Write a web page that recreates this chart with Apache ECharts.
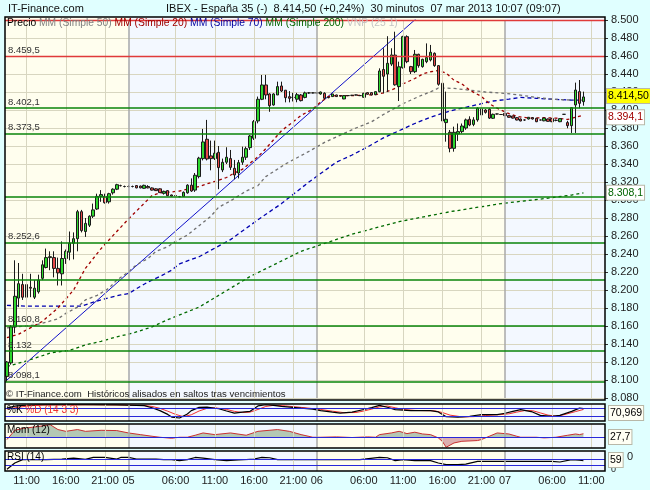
<!DOCTYPE html>
<html>
<head>
<meta charset="utf-8">
<script src="https://cdn.jsdelivr.net/npm/echarts@6/dist/echarts.min.js"></script>
<style>
  html, body { margin: 0; padding: 0; background: #E0FFFF; }
  #chart { width: 650px; height: 490px; }
</style>
</head>
<body>
<div id="chart"></div>
<script>
// velas de 30 minutos: [apertura, cierre, minimo, maximo]
const ohlc = [
  [8104, 8120, 8098, 8121], [8119, 8159, 8117, 8161], [8159, 8193, 8152, 8233], [8191, 8207, 8181, 8230],
  [8206, 8192, 8189, 8218], [8206, 8192, 8180, 8217], [8203, 8202, 8192, 8218], [8192, 8202, 8190, 8211],
  [8198, 8211, 8196, 8217], [8213, 8228, 8211, 8233], [8225, 8236, 8224, 8246], [8236, 8237, 8222, 8243],
  [8236, 8224, 8214, 8243], [8224, 8219, 8205, 8236], [8218, 8235, 8205, 8254], [8235, 8243, 8229, 8245],
  [8242, 8252, 8233, 8265], [8252, 8257, 8234, 8264], [8257, 8287, 8243, 8289], [8287, 8266, 8264, 8289],
  [8265, 8274, 8259, 8280], [8272, 8282, 8270, 8283], [8282, 8289, 8280, 8296], [8290, 8304, 8289, 8307],
  [8304, 8306, 8298, 8311], [8304, 8297, 8296, 8307], [8298, 8307, 8296, 8308], [8308, 8312, 8306, 8313],
  [8312, 8317, 8311, 8318], [8316, 8316, 8315, 8317], [8315, 8315, 8314, 8316], [8315, 8315, 8314, 8316.5],
  [8315, 8315, 8314, 8316], [8316, 8313.5, 8313, 8316.5], [8315.5, 8313.5, 8313, 8316], [8313, 8316.3, 8312.5, 8317],
  [8315, 8313.5, 8313, 8316.5], [8313.4, 8311, 8310.5, 8314], [8312.4, 8310.4, 8310, 8313], [8312.4, 8308.2, 8308, 8313],
  [8307.4, 8309.6, 8306, 8310.4], [8310.4, 8304.8, 8304.5, 8311], [8305.6, 8304.4, 8303.8, 8306], [8305, 8304.8, 8304, 8305.5],
  [8303.7, 8303.7, 8303, 8304.5], [8304, 8308.5, 8303.5, 8309.5], [8308, 8316.5, 8307, 8317.5], [8316.5, 8310, 8309, 8324],
  [8311, 8327.5, 8309, 8330], [8326, 8346.5, 8324, 8348], [8346, 8364.5, 8344, 8379], [8367.5, 8345.6, 8344, 8389],
  [8349, 8346, 8333, 8366], [8346, 8352, 8344.5, 8366], [8353, 8336, 8312, 8360], [8333.4, 8341.9, 8331, 8346],
  [8342, 8347.5, 8340, 8358.6], [8346, 8336.3, 8333.4, 8355.6], [8335.2, 8327.8, 8323, 8344.5], [8330, 8341.5, 8324, 8344.5],
  [8342, 8347.5, 8339, 8359.3], [8347.5, 8357, 8344.5, 8359.3], [8358.2, 8371.1, 8355.6, 8372.3], [8368.6, 8387.1, 8366.7, 8388.9],
  [8387.8, 8411.9, 8385.2, 8414.9], [8411.9, 8427.8, 8411, 8438.9], [8427.8, 8416.7, 8411.9, 8439], [8417.8, 8404.8, 8398, 8418.6],
  [8405.6, 8417.8, 8404.8, 8418.6], [8416.7, 8426, 8416.7, 8431.5], [8426.7, 8421.1, 8420, 8431.5], [8422, 8413.7, 8408.5, 8422],
  [8414.8, 8413, 8408.5, 8421], [8414, 8414, 8409.5, 8419], [8412, 8417, 8408.6, 8419], [8416.7, 8410.4, 8409.5, 8417.8],
  [8414, 8419, 8413, 8420.4], [8419, 8419, 8418, 8420], [8419, 8419, 8418.5, 8419.5], [8419, 8419, 8418, 8420],
  [8417.8, 8420, 8417, 8420.5], [8418.6, 8413, 8411.9, 8419.7], [8414.1, 8413.7, 8413, 8414.5], [8414.9, 8417.8, 8414.5, 8418],
  [8416.7, 8414.9, 8414.5, 8417], [8415.6, 8415.6, 8415, 8416], [8412.3, 8416, 8412, 8416.5], [8416, 8416, 8415.5, 8416.5],
  [8416.3, 8416.3, 8416, 8416.8], [8416.7, 8416.7, 8416.3, 8417], [8416, 8416, 8415.5, 8416.5], [8414.1, 8418.6, 8414, 8419],
  [8419.3, 8417.4, 8417, 8419.5], [8419.3, 8416.7, 8416.5, 8419.8], [8417, 8420.4, 8416.8, 8420.6], [8420.4, 8443.4, 8419.7, 8446.3],
  [8445, 8437.5, 8418.6, 8468.6], [8440, 8451.9, 8420, 8482], [8451, 8461.2, 8449, 8468.6], [8461, 8428, 8427, 8487],
  [8426, 8448, 8410, 8453.7], [8447, 8481.5, 8446, 8482.5], [8481.5, 8453.7, 8452, 8483], [8448.2, 8442.6, 8440, 8449],
  [8442.6, 8461.9, 8441, 8466.7], [8461.9, 8449.3, 8447, 8462.5], [8448.2, 8456.3, 8447, 8457], [8453.7, 8458.2, 8452, 8474],
  [8455.6, 8464.1, 8454, 8472.3], [8463, 8449.3, 8448, 8464], [8449.3, 8428.6, 8427, 8450], [8429.7, 8387.8, 8377.8, 8430.5],
  [8386, 8389.7, 8364.8, 8420.4], [8375.2, 8357.4, 8353, 8377.8], [8357.4, 8375.2, 8353.7, 8381.5], [8373.4, 8376, 8365.6, 8385],
  [8376, 8382.2, 8374, 8385], [8380, 8389, 8378, 8390.5], [8389.7, 8383.3, 8382, 8393], [8384, 8389, 8382, 8392],
  [8389, 8401.9, 8387, 8403], [8401.2, 8394.5, 8393, 8403], [8400, 8397.4, 8396, 8401], [8400.8, 8391, 8390, 8402],
  [8390.8, 8395.2, 8390, 8396], [8395.6, 8395.6, 8395, 8396], [8395, 8395, 8394.5, 8395.5], [8396.3, 8393.7, 8393.5, 8396.5],
  [8393.7, 8391.9, 8391.5, 8394], [8393.3, 8391, 8390.5, 8393.5], [8391.5, 8388.9, 8388.5, 8392], [8390, 8387.8, 8387.5, 8390.5],
  [8388.9, 8388.9, 8388, 8389.5], [8390, 8391.9, 8389.5, 8392.2], [8391.5, 8390, 8389.5, 8392], [8390.8, 8387, 8386.5, 8391],
  [8388.9, 8388.9, 8388.5, 8389.3], [8388, 8391, 8387.5, 8391.5], [8390, 8387.4, 8387, 8390.5], [8390.4, 8387, 8386.5, 8391],
  [8388.5, 8388.5, 8387.5, 8389.5], [8387, 8390.4, 8386.5, 8391], [8395.2, 8395.2, 8395, 8395.5], [8386, 8382.6, 8379.7, 8388],
  [8382.6, 8402.6, 8374.5, 8403], [8405.6, 8422.2, 8374.5, 8430.4], [8420.4, 8407.4, 8401.9, 8433.3], [8409.3, 8414.5, 8404.8, 8420.4]
];

// medias moviles: [indice de vela, valor]
const mm20 = [[0, 8147], [3, 8151], [9, 8165], [13, 8180], [17, 8200], [20, 8224], [24, 8246], [28, 8265], [31, 8279],
  [34, 8292], [37, 8305], [39, 8308], [42, 8309], [44, 8310], [47, 8313], [49, 8315], [51, 8318], [54, 8322], [56, 8325],
  [58, 8330], [60, 8334], [62, 8341], [64, 8348], [66, 8357], [68, 8367], [70, 8377], [73, 8387], [75, 8394], [78, 8401],
  [80, 8409], [82, 8415], [84, 8416], [88, 8416], [91, 8416.5], [94, 8417], [96, 8419], [99, 8424], [101, 8429], [104, 8435],
  [106, 8440], [108, 8442.5], [110, 8444], [112, 8441], [114, 8433], [116, 8429], [118, 8422], [121, 8415], [123, 8407],
  [125, 8402], [128, 8396], [130, 8393], [133, 8391], [137, 8391.5], [140, 8391], [143, 8389.5], [145, 8392], [147, 8394]];
const mm50 = [[0, 8158], [7, 8161], [9, 8163], [13, 8168], [15, 8174], [18, 8181], [20, 8189], [23, 8194], [26, 8202],
  [28, 8211], [31, 8220], [33, 8228], [36, 8235], [38, 8243], [41, 8248], [43, 8254], [46, 8261], [48, 8268], [52, 8282],
  [54, 8292], [57, 8299], [61, 8310], [64, 8316], [66, 8326], [71, 8340], [77, 8354], [81, 8364], [85, 8372], [89, 8380],
  [93, 8387], [96, 8395], [101, 8407], [105, 8415], [109, 8422], [110, 8424.5], [114, 8424], [118, 8422], [122, 8420],
  [127, 8418.5], [131, 8416.5], [135, 8414], [139, 8412], [144, 8411], [147, 8411]];
const mm70 = [[0, 8183], [5, 8182], [10, 8182], [15, 8182], [19, 8182], [21, 8185], [24, 8189], [26, 8191.5], [29, 8194.5],
  [31, 8196], [34, 8204], [36, 8209], [39, 8215], [42, 8222], [44, 8229], [47, 8234], [49, 8237], [57, 8256], [64, 8278],
  [70, 8296], [77, 8320], [84, 8342], [88, 8350], [92, 8359], [96, 8369], [99, 8375], [104, 8385], [108, 8392], [113, 8399],
  [117, 8403], [121, 8407], [124, 8410], [128, 8412], [131, 8414], [135, 8413], [139, 8412], [144, 8411], [147, 8411]];
const mm200 = [[0, 8115], [4, 8120], [7, 8124], [11, 8130], [16, 8133], [20, 8139], [24, 8143], [28, 8148], [32, 8152],
  [37, 8159], [41, 8167], [45, 8174], [49, 8181], [62, 8215], [75, 8243], [88, 8262], [100, 8276], [113, 8287], [126, 8296],
  [136, 8301], [144, 8305.5], [147, 8308]];
const trendLine = [[0, 8100], [105, 8504]];

// niveles horizontales
const resistanceLevels = [8500, 8459.5];
const supportLevels = [8402.1, 8373.5, 8303.5, 8252.6, 8211, 8160.8, 8132, 8098.1];
const labeledLevels = [8459.5, 8402.1, 8373.5, 8252.6, 8160.8, 8132, 8098.1];
const levelTexts = ['8.459,5', '8.402,1', '8.373,5', '8.252,6', '8.160,8', '8.132', '8.098,1'];

// indicadores
const stochK = [[0, 73], [2, 84], [4, 88], [8, 91], [20, 91], [28, 90], [33, 87], [35, 86], [37, 75], [39, 60], [41, 40],
  [42, 26], [44, 21], [46, 42], [47, 60], [49, 77], [51, 78], [54, 70], [56, 58], [58, 47], [60, 52], [62, 56], [64, 85],
  [66, 91], [68, 88], [70, 82], [75, 73], [78, 68], [80, 60], [83, 52], [85, 47], [88, 52], [91, 66], [93, 76], [95, 88],
  [97, 78], [99, 65], [103, 60], [108, 60], [110, 53], [112, 28], [115, 25], [118, 30], [121, 39], [125, 39], [127, 46],
  [129, 56], [131, 65], [134, 53], [136, 35], [139, 30], [141, 35], [144, 56], [146, 73], [147, 71]];
const stochD = [[0, 68], [3, 78], [6, 86], [10, 90], [22, 91], [30, 90], [35, 87], [37, 82], [39, 72], [41, 57], [43, 40],
  [45, 28], [47, 38], [49, 58], [51, 72], [53, 75], [56, 66], [58, 56], [60, 50], [62, 52], [64, 66], [66, 82], [68, 88],
  [71, 85], [76, 75], [80, 66], [83, 57], [86, 49], [89, 50], [91, 58], [93, 68], [95, 80], [97, 84], [99, 75], [101, 66],
  [104, 61], [109, 59], [111, 50], [113, 36], [116, 27], [119, 28], [122, 34], [126, 39], [128, 43], [130, 52], [132, 60],
  [134, 60], [136, 48], [138, 36], [140, 31], [142, 38], [145, 55], [147, 66]];
const mom = [[0, -18], [2, 55], [4, 70], [8, 85], [11, 100], [13, 61], [15, 47], [18, 61], [20, 47], [24, 55], [28, 53],
  [31, 34], [34, 21], [37, 8], [39, 0], [42, -8], [44, 0], [46, 0], [48, 16], [50, 34], [53, 21], [57, 34], [61, 16],
  [64, 47], [69, 61], [72, 47], [75, 21], [78, 0], [80, 0], [84, 3], [88, -2], [92, 3], [94, 0], [95, 21], [98, 34],
  [100, 47], [102, 29], [104, 40], [106, 26], [108, 21], [110, -5], [111, -32], [112, -79], [114, -45], [116, -32],
  [120, -26], [121, -18], [123, 8], [125, 34], [128, 26], [130, 8], [131, 0], [135, 0], [137, -5], [140, 0], [143, 16],
  [145, 26], [146, 21], [147, 27.7]];
const rsi = [[0, 5], [2, 45], [4, 66], [10, 66], [14, 70], [17, 76], [20, 68], [22, 80], [25, 80], [28, 70], [29, 80],
  [31, 80], [33, 70], [38, 70], [40, 66], [42, 66], [44, 60], [46, 66], [48, 80], [50, 76], [53, 66], [56, 60], [59, 64],
  [63, 70], [65, 80], [67, 78], [69, 66], [80, 66], [90, 66], [95, 80], [97, 78], [99, 60], [101, 66], [104, 60], [108, 60],
  [110, 45], [112, 34], [115, 34], [117, 38], [120, 55], [125, 55], [139, 55], [141, 51], [144, 66], [146, 63], [147, 59]];
const stochLevels = [70, 30];
const momLevels = [0];
const rsiLevels = [70, 30];

// eje de tiempo
const tickIdx = [5, 15, 25, 31, 43, 53, 63, 73, 79, 91, 101, 111, 121, 127, 139, 149];
const tickLabels = ['11:00', '16:00', '21:00', '05', '06:00', '11:00', '16:00', '21:00', '06', '06:00', '11:00', '16:00', '21:00', '07', '06:00', '11:00'];
const daySeps = [31, 79, 127];
const barCount = 153;

const lastPrice = 8414.5, lastPriceText = '8.414,50';
const lastMm20 = 8394.1, lastMm20Text = '8.394,1';
const lastMm200 = 8308.1, lastMm200Text = '8.308,1';
const stochText = '70,969', momText = '27,7', rsiText = '59';

const categories = [];
for (let i = 0; i < barCount; i++) {
  const m = 8 * 60 + 30 + i * 30;
  const d = 4 + Math.floor(m / 1440);
  const hm = m % 1440;
  categories.push('0' + d + ' ' + String(Math.floor(hm / 60)).padStart(2, '0') + ':' + String(hm % 60).padStart(2, '0'));
}

const FONT = '"Liberation Sans", Arial, sans-serif';
const GRID_C = '#D8D6C0';
const SEP_C = '#A8A8A8';
const BLUE = '#2828D8';

const panels = [
  { top: 20, height: 378, min: 8080, max: 8500, boxTop: 17, boxBottom: 400 },
  { top: 404, height: 17, min: 5, max: 95, boxTop: 404, boxBottom: 421 },
  { top: 424, height: 24, min: -85, max: 105, boxTop: 424, boxBottom: 448 },
  { top: 451, height: 20, min: -6, max: 121, boxTop: 451, boxBottom: 471 }
];

function vLines() {
  return tickIdx.map(i => ({
    xAxis: i,
    lineStyle: { color: daySeps.includes(i) ? SEP_C : GRID_C, width: daySeps.includes(i) ? 1.5 : 1, type: 'solid' }
  }));
}
function hLines(vals, color, width) {
  return vals.map(v => ({ yAxis: v, lineStyle: { color: color, width: width, type: 'solid' } }));
}
function markLines(data) {
  return { symbol: 'none', silent: true, animation: false, label: { show: false }, data: data };
}

const chart = echarts.init(document.getElementById('chart'));

const momZero = panels[2].max / (panels[2].max - panels[2].min);
const momFill = new echarts.graphic.LinearGradient(0, panels[2].top, 0, panels[2].top + panels[2].height, [
  { offset: 0, color: '#B4C8B4' }, { offset: momZero, color: '#B4C8B4' },
  { offset: momZero, color: '#DDB0B0' }, { offset: 1, color: '#DDB0B0' }
], true);

const option = {
  backgroundColor: '#E0FFFF',
  animation: false,
  grid: panels.map(p => ({ left: 5, right: 45, top: p.top, height: p.height })),
  xAxis: panels.map((p, i) => ({
    type: 'category', gridIndex: i, data: categories, boundaryGap: true,
    axisLine: { show: false }, axisTick: { show: false }, splitLine: { show: false },
    axisLabel: i === 3 ? {
      interval: idx => tickIdx.indexOf(idx) >= 0,
      formatter: (val, idx) => tickLabels[tickIdx.indexOf(idx)],
      color: '#222', fontSize: 11, fontFamily: FONT, margin: 4
    } : { show: false }
  })),
  yAxis: panels.map((p, i) => i === 0 ? {
    type: 'value', gridIndex: 0, position: 'right', min: p.min, max: p.max, interval: 20, scale: true,
    axisLine: { show: false },
    axisTick: { show: true, length: 3, lineStyle: { color: '#333' } },
    axisLabel: { formatter: v => (v / 1000).toFixed(3), color: '#222', fontSize: 11, fontFamily: FONT, margin: 6 },
    splitLine: { show: true, lineStyle: { color: GRID_C, width: 1 } }
  } : {
    type: 'value', gridIndex: i, min: p.min, max: p.max, show: false, splitLine: { show: false }
  }),
  series: [
    {
      name: 'tendencia', type: 'line', xAxisIndex: 0, yAxisIndex: 0, data: trendLine, z: 1,
      showSymbol: false, silent: true, lineStyle: { color: '#1010C8', width: 1 },
      markLine: markLines(vLines()
        .concat(hLines(resistanceLevels, '#E03A3A', 1.3))
        .concat(hLines(supportLevels, '#0A840A', 1.6)))
    },
    {
      name: 'MM200', type: 'line', xAxisIndex: 0, yAxisIndex: 0, data: mm200, z: 2, showSymbol: false,
      lineStyle: { color: '#006A00', width: 1.3, type: [3, 3] }
    },
    {
      name: 'MM70', type: 'line', xAxisIndex: 0, yAxisIndex: 0, data: mm70, z: 2, showSymbol: false,
      lineStyle: { color: '#0000B0', width: 1.3, type: [4, 3] }
    },
    {
      name: 'MM50', type: 'line', xAxisIndex: 0, yAxisIndex: 0, data: mm50, z: 2, showSymbol: false,
      lineStyle: { color: '#707070', width: 1.3, type: [3, 3] }
    },
    {
      name: 'MM20', type: 'line', xAxisIndex: 0, yAxisIndex: 0, data: mm20, z: 2, showSymbol: false,
      lineStyle: { color: '#A00000', width: 1.3, type: [3, 3] }
    },
    {
      name: 'Precio', type: 'candlestick', xAxisIndex: 0, yAxisIndex: 0, data: ohlc, z: 3, barWidth: 3,
      itemStyle: { color: '#2ED82E', color0: '#E84848', borderColor: '#1A1A1A', borderColor0: '#1A1A1A', borderWidth: 1 }
    },
    {
      name: '%D', type: 'line', xAxisIndex: 1, yAxisIndex: 1, data: stochD, showSymbol: false,
      lineStyle: { color: '#F03030', width: 1 },
      markLine: markLines(vLines().concat(hLines(stochLevels, BLUE, 1.2)))
    },
    {
      name: '%K', type: 'line', xAxisIndex: 1, yAxisIndex: 1, data: stochK, showSymbol: false,
      lineStyle: { color: '#000', width: 1.2 }
    },
    {
      name: 'Mom', type: 'line', xAxisIndex: 2, yAxisIndex: 2, data: mom, showSymbol: false,
      lineStyle: { color: '#C83030', width: 1 },
      areaStyle: { color: momFill, opacity: 1 },
      markLine: markLines(vLines().concat(hLines(momLevels, BLUE, 1.2)))
    },
    {
      name: 'RSI', type: 'line', xAxisIndex: 3, yAxisIndex: 3, data: rsi, showSymbol: false,
      lineStyle: { color: '#000', width: 1.2 },
      markLine: markLines(vLines().concat(hLines(rsiLevels, BLUE, 1.2)))
    }
  ]
};

chart.setOption(option);

// decoracion dependiente de las escalas
const px = i => chart.convertToPixel({ xAxisIndex: 0 }, i);
const py = v => chart.convertToPixel({ yAxisIndex: 0 }, v);
const bands = [5, px(daySeps[0]), px(daySeps[1]), px(daySeps[2]), 605];
const dayColors = ['#FFFEEE', '#F3F8FF', '#FFFEEE', '#F3F8FF'];

const graphics = [];
panels.forEach(p => {
  for (let d = 0; d < 4; d++) {
    graphics.push({
      type: 'rect', z: -10, silent: true,
      shape: { x: bands[d], y: p.boxTop, width: bands[d + 1] - bands[d], height: p.boxBottom - p.boxTop },
      style: { fill: dayColors[d] }
    });
  }
  graphics.push({
    type: 'rect', z: 50, silent: true,
    shape: { x: 5, y: p.boxTop, width: 600, height: p.boxBottom - p.boxTop },
    style: { fill: 'none', stroke: '#000', lineWidth: 1.5 }
  });
});

function txt(x, y, text, size, color, extra) {
  return {
    type: 'text', z: 60, silent: true, x: x, y: y,
    style: Object.assign({ text: text, fill: color, font: size + 'px ' + FONT, verticalAlign: 'middle' }, extra || {})
  };
}

const LF = '10.3px ' + FONT;
graphics.push(txt(8, 9, 'IT-Finance.com', 11, '#111'));
graphics.push(txt(166, 9, 'IBEX - España 35 (-)  8.414,50 (+0,24%)  30 minutos  07 mar 2013 10:07 (09:07)', 11, '#111'));
graphics.push({
  type: 'text', z: 60, silent: true, x: 7, y: 23,
  style: {
    text: '{k|Precio} {g|MM (Simple 50)} {r|MM (Simple 20)} {b|MM (Simple 70)} {d|MM (Simple 200)} {v|VNP (25 1)}',
    font: LF, verticalAlign: 'middle',
    rich: {
      k: { fill: '#000', font: LF },
      g: { fill: '#808080', font: LF },
      r: { fill: '#A00000', font: LF },
      b: { fill: '#0000A0', font: LF },
      d: { fill: '#006400', font: LF },
      v: { fill: '#C4C4C4', font: LF }
    }
  }
});
labeledLevels.forEach((v, i) => {
  graphics.push(txt(8, py(v) - 1, levelTexts[i], 9.5, '#333', { verticalAlign: 'bottom' }));
});
graphics.push(txt(6, 394, '© IT-Finance.com  Históricos alisados en saltos tras vencimientos', 9.6, '#222'));
graphics.push({
  type: 'text', z: 60, silent: true, x: 7, y: 410,
  style: {
    text: '{k|%K} {d|%D (14 3 3)}', verticalAlign: 'middle', font: '10px ' + FONT,
    rich: { k: { fill: '#000', font: '10px ' + FONT }, d: { fill: '#F03030', font: '10px ' + FONT } }
  }
});
graphics.push(txt(7, 430, 'Mom (12)', 10, '#000'));
graphics.push(txt(7, 457, 'RSI (14)', 10, '#000'));

function box(x, y, text, color, bg) {
  return txt(x, y, text, 10.5, color, {
    backgroundColor: bg, borderColor: '#B8B8A8', borderWidth: 1, padding: [2, 1, 1, 1]
  });
}
graphics.push(box(607, py(lastPrice) - 1, lastPriceText, '#000', '#FFFF00'));
graphics.push(box(607, py(lastMm20) + 2, lastMm20Text, '#A00000', '#FFFFFF'));
graphics.push(box(607, py(lastMm200), lastMm200Text, '#006400', '#FFFFFF'));
graphics.push(box(609, 413, stochText, '#000', '#FFFFF4'));
graphics.push(box(609, 437, momText, '#000', '#FFFFF4'));
graphics.push(txt(611, 470, '0', 9, '#222'));
graphics.push(box(609, 460, rsiText, '#000', '#FFFFF4'));
graphics.push(txt(627, 457, '0', 11, '#222'));

chart.setOption({ graphic: graphics });
</script>
</body>
</html>
